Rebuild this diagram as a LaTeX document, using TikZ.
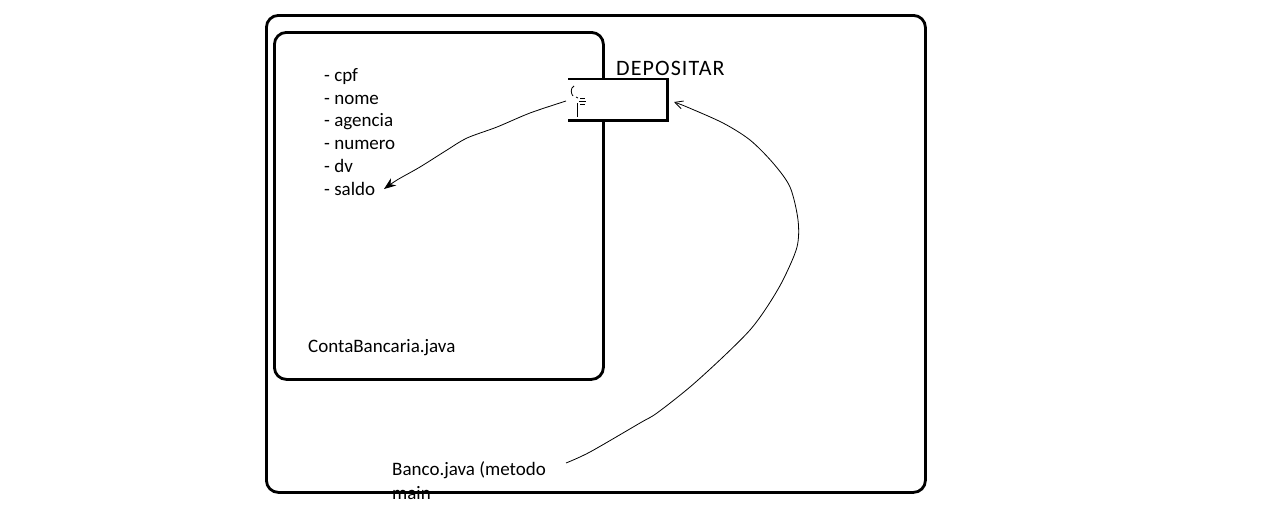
\documentclass[tikz,border=0pt]{standalone}
\usepackage{fontspec}
\setmainfont{Carlito}
\usetikzlibrary{arrows.meta}
\begin{document}
\begin{tikzpicture}[x=1pt,y=-1pt,
  frame/.style={draw=black,line width=2.8pt,rounded corners=12pt},
  lbl/.style={anchor=base west,inner sep=0pt,font=\fontsize{19}{24}\selectfont},
  hand/.style={draw=black,line width=0.8pt}]
\useasboundingbox (0,0) rectangle (1268,504);
\fill[white] (0,0) rectangle (1268,504);
% outer frame
\node[frame,minimum width=659pt,minimum height=477pt,anchor=north west] (outer) at (265,14) {};
% inner frame
\node[frame,minimum width=329pt,minimum height=347pt,anchor=north west] (inner) at (273,31) {};
% deposit box
\node[fill=white,minimum width=99pt,minimum height=41pt,inner sep=0pt,anchor=north west] (dep) at (568,79) {};
\draw[line width=2.8pt] (dep.north west) -- (dep.north east) -- (dep.south east) -- (dep.south west);
\draw[hand] (574,86) .. controls (570,88) and (571,94) .. (573,96);
\draw[hand] (576,97) -- (578,98);
\draw[hand] (580,98) -- (585,98) (579,101) -- (586,101) (580,104) -- (585,104);
\draw[hand] (577,103) -- (577,117);
\node[anchor=south west,inner sep=0pt,font=\fontsize{22}{24}\selectfont\addfontfeature{LetterSpace=5}] (deptxt) at (616,76) {DEPOSITAR};
% attributes
\node[lbl] (cpf) at (324,81.5) {- cpf};
\node[lbl] (nome) at (324,104.2) {- nome};
\node[lbl] (agencia) at (324,126.9) {- agencia};
\node[lbl] (numero) at (324,149.6) {- numero};
\node[lbl] (dv) at (324,172.3) {- dv};
\node[lbl] (saldo) at (324,195) {- saldo};
\node[lbl] (conta) at (308,352) {ContaBancaria.java};
\node[lbl] (banco) at (392,475) {Banco.java (metodo};
\node[lbl] (main) at (392,499) {main};
% connectors
\coordinate (s1) at (566,101);
\coordinate (e1) at (384,189);
\draw[hand,-{Stealth[length=12pt,width=9pt]}] plot[smooth,tension=0.5] coordinates {(s1) (530,113) (497,127) (467,138) (447,150) (420,167) (397,180) (e1)};
\coordinate (s2) at (566,463);
\coordinate (e2) at (674,102);
\draw[hand,-{Straight Barb[length=8pt,width=8pt]}] plot[smooth,tension=0.5] coordinates {(s2) (590,452) (640,423) (657,413) (690,387) (723,357) (750,330) (767,307) (783,280) (797,247) (798,220) (790,187) (773,163) (750,140) (723,123) (687,107) (e2)};
\end{tikzpicture}
\end{document}
